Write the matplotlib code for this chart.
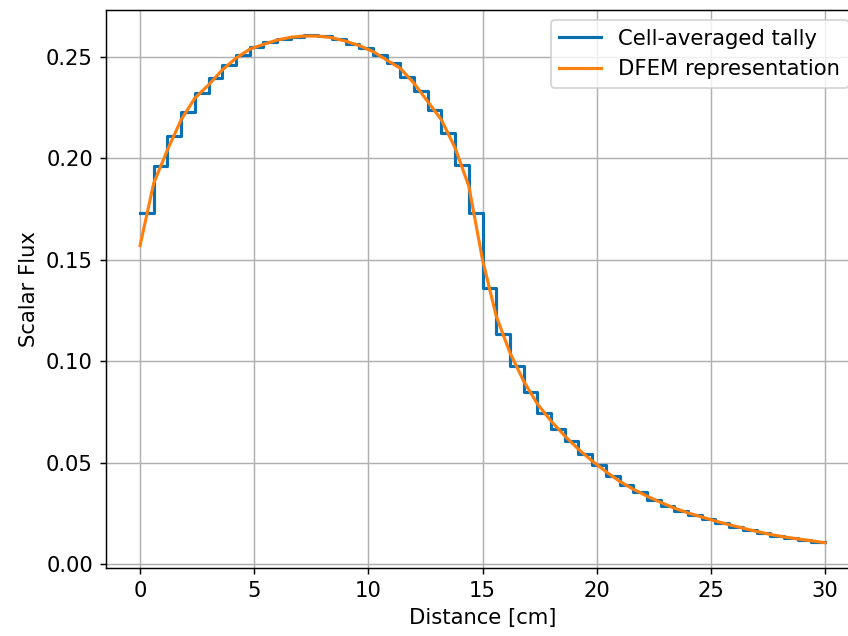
import numpy as np
import matplotlib
matplotlib.use("Agg")
import matplotlib.pyplot as plt

# Cell edges (50 cells of 0.6 cm over 0-30 cm)
cell_width = 0.6
n_cells = 50

# Cell-averaged tally values (one per cell)
tally = [
    0.1731, 0.1964, 0.2111, 0.2231, 0.2321, 0.2395, 0.2461, 0.2510, 0.2551,
    0.2572, 0.2589, 0.2600, 0.2607, 0.2602, 0.2588, 0.2565, 0.2542, 0.2510,
    0.2469, 0.2403, 0.2334, 0.2239, 0.2125, 0.1969, 0.1731,
    0.1362, 0.1132, 0.0976, 0.0848, 0.0746, 0.0666, 0.0607, 0.0541, 0.0487,
    0.0435, 0.0389, 0.0353, 0.0316, 0.0287, 0.0260, 0.0243, 0.0221, 0.0202,
    0.0185, 0.0169, 0.0153, 0.0139, 0.0128, 0.0120, 0.0110,
]

# DFEM representation sampled at cell boundaries
dfem = [
    0.1570, 0.1878, 0.2042, 0.2190, 0.2297, 0.2362, 0.2436, 0.2494, 0.2538, 0.2562,
    0.2583, 0.2597, 0.2603, 0.2603, 0.2595, 0.2578, 0.2556, 0.2527, 0.2485, 0.2444,
    0.2370, 0.2280, 0.2190, 0.2051, 0.1862, 0.1500, 0.1222, 0.1042, 0.0902, 0.0790,
    0.0705, 0.0632, 0.0566, 0.0508, 0.0456, 0.0408, 0.0369, 0.0335, 0.0304, 0.0276,
    0.0252, 0.0232, 0.0212, 0.0194, 0.0177, 0.0161, 0.0146, 0.0134, 0.0124, 0.0115,
    0.0105,
]

edges = np.arange(n_cells + 1) * cell_width

plt.rcParams["font.size"] = 11.5

fig = plt.figure(figsize=(6.4, 4.8), dpi=132.5)
ax = fig.add_axes([105.8 / 848, 68 / 637, 753.5 / 848, 559.3 / 637])

ax.step(edges, list(tally) + [tally[-1]], where="post", color="#0a70b2",
        linewidth=1.7, label="Cell-averaged tally", zorder=3)
ax.plot(edges, dfem, color="#ff7f0e", linewidth=1.7,
        label="DFEM representation", zorder=4)

ax.set_xlim(-1.5, 31.5)
ax.set_ylim(-0.002, 0.2733)
ax.set_xticks([0, 5, 10, 15, 20, 25, 30])
ax.set_yticks([0.0, 0.05, 0.10, 0.15, 0.20, 0.25])
ax.set_yticklabels(["0.00", "0.05", "0.10", "0.15", "0.20", "0.25"])
ax.grid(True, color="#b0b0b0", linewidth=0.8)
ax.set_axisbelow(True)
ax.set_xlabel("Distance [cm]")
ax.set_ylabel("Scalar Flux")
ax.legend(loc="upper right")

fig.savefig("out.png", dpi=132.5)
